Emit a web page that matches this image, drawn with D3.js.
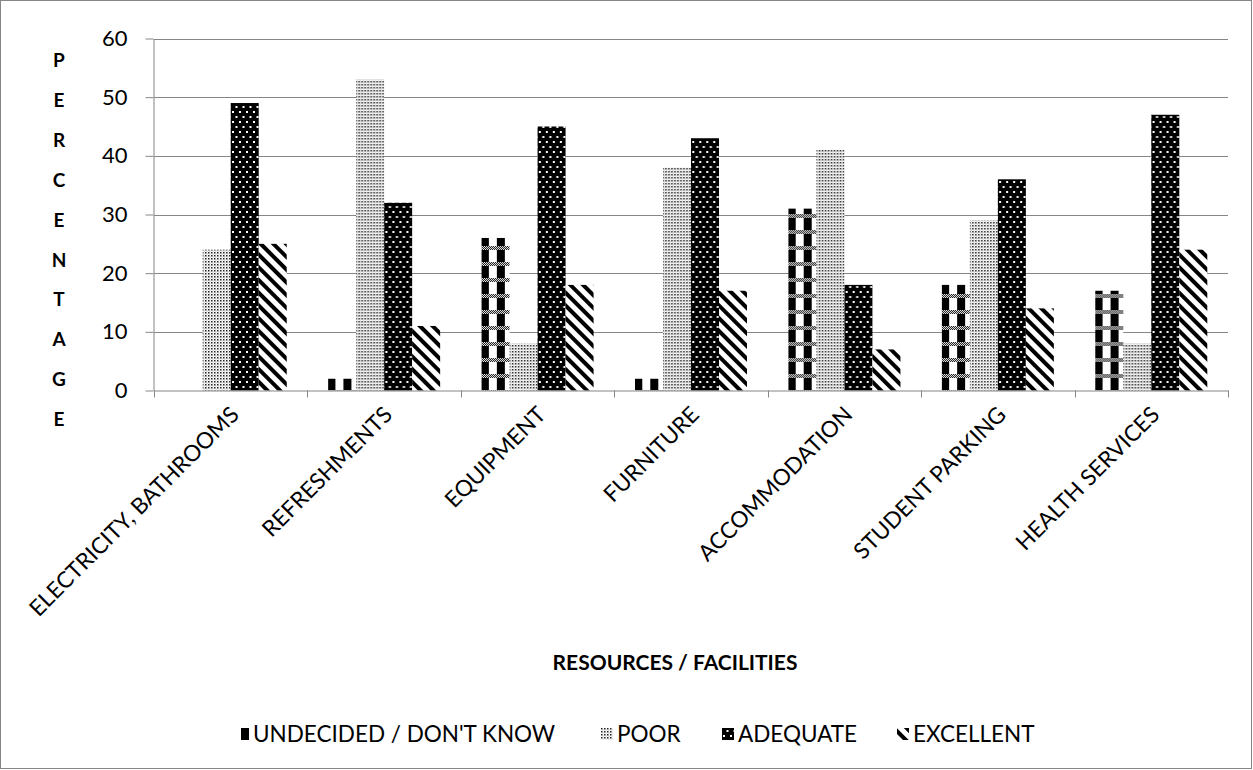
<!DOCTYPE html>
<html>
<head>
<meta charset="utf-8">
<script src="https://cdn.jsdelivr.net/npm/d3@7/dist/d3.min.js"></script>
<style>
  html, body { margin: 0; padding: 0; background: #fff; }
  svg { display: block; font-family: Lato, "Liberation Sans", sans-serif; }
</style>
</head>
<body>
<svg id="chart" width="1253" height="770"></svg>
<script>
// Survey results: rating of campus resources / facilities (percent of respondents)
const categories = ["ELECTRICITY, BATHROOMS", "REFRESHMENTS", "EQUIPMENT", "FURNITURE",
                    "ACCOMMODATION", "STUDENT PARKING", "HEALTH SERVICES"];
const seriesNames = ["UNDECIDED / DON'T KNOW", "POOR", "ADEQUATE", "EXCELLENT"];
const undecided = [0, 2, 26, 2, 31, 18, 17];
const poor      = [24, 53, 8, 38, 41, 29, 8];
const adequate  = [49, 32, 45, 43, 18, 36, 47];
const excellent = [25, 11, 18, 17, 7, 14, 24];
const yTicks = [0, 10, 20, 30, 40, 50, 60];
const yTitle = "PERCENTAGE";
const xTitle = "RESOURCES / FACILITIES";

const seriesValues = [undecided, poor, adequate, excellent];
const patternIds = ["pat-undecided", "pat-poor", "pat-adequate", "pat-excellent"];

const svg = d3.select("#chart");
const W = 1253, H = 770;
const plot = { left: 154, right: 1228, top: 38.5, bottom: 390.5 };

// ---- fill patterns ----
const defs = svg.append("defs");

// undecided: black vertical bars crossed by checkered bands
const pU = defs.append("pattern").attr("id", patternIds[0])
  .attr("patternUnits", "userSpaceOnUse").attr("width", 16).attr("height", 16);
pU.append("rect").attr("width", 16).attr("height", 16).attr("fill", "#fff");
pU.append("rect").attr("x", 4).attr("width", 8).attr("height", 16).attr("fill", "#000");
for (let i = 0; i < 16; i++) {
  for (let j = 0; j < 4; j++) {
    pU.append("rect").attr("x", i).attr("y", 6 + j).attr("width", 1).attr("height", 1)
      .attr("fill", (i + j) % 2 === 0 ? "#000" : "#fff");
  }
}

// poor: fine dotted texture
const pP = defs.append("pattern").attr("id", patternIds[1])
  .attr("patternUnits", "userSpaceOnUse").attr("width", 3).attr("height", 3);
pP.append("rect").attr("width", 3).attr("height", 3).attr("fill", "#fff");
pP.append("rect").attr("x", 0).attr("y", 0).attr("width", 1.5).attr("height", 1.5).attr("fill", "#222");
pP.append("rect").attr("x", 1.5).attr("y", 1.5).attr("width", 1).attr("height", 1).attr("fill", "#999");

// adequate: black with white dots
const pA = defs.append("pattern").attr("id", patternIds[2])
  .attr("patternUnits", "userSpaceOnUse").attr("width", 7).attr("height", 10);
pA.append("rect").attr("width", 7).attr("height", 10).attr("fill", "#000");
pA.append("rect").attr("x", 1).attr("y", 1).attr("width", 2).attr("height", 2).attr("fill", "#fff");
pA.append("rect").attr("x", 4.5).attr("y", 6).attr("width", 2).attr("height", 2).attr("fill", "#fff");

// excellent: wide downward diagonal stripes
const pE = defs.append("pattern").attr("id", patternIds[3])
  .attr("patternUnits", "userSpaceOnUse").attr("width", 9).attr("height", 9)
  .attr("patternTransform", "rotate(-45)");
pE.append("rect").attr("width", 9).attr("height", 9).attr("fill", "#fff");
pE.append("rect").attr("x", 0).attr("width", 4).attr("height", 9).attr("fill", "#000");

// ---- outer frame ----
svg.append("rect").attr("x", 0.5).attr("y", 0.5).attr("width", W - 2).attr("height", H - 2)
  .attr("fill", "#fff").attr("stroke", "#868686").attr("stroke-width", 1);

// ---- scales ----
const x0 = d3.scaleBand().domain(categories).range([plot.left, plot.right]).paddingInner(0).paddingOuter(0);
const x1 = d3.scaleBand().domain(seriesNames).range([0, x0.bandwidth()]).paddingInner(0).paddingOuter(0.74);
const y = d3.scaleLinear().domain([0, 60]).range([plot.bottom, plot.top]);

// ---- gridlines ----
svg.append("g").selectAll("line").data(yTicks.filter(d => d > 0)).join("line")
  .attr("x1", plot.left).attr("x2", plot.right)
  .attr("y1", d => Math.round(y(d)) + 0.5).attr("y2", d => Math.round(y(d)) + 0.5)
  .attr("stroke", "#868686").attr("stroke-width", 1);

// ---- bars ----
const groups = svg.append("g").selectAll("g").data(categories).join("g")
  .attr("transform", d => `translate(${x0(d)},0)`);
groups.selectAll("rect")
  .data((c, ci) => seriesNames.map((s, si) => ({ s, si, v: seriesValues[si][ci] })))
  .join("rect")
  .attr("x", d => x1(d.s))
  .attr("y", d => y(d.v))
  .attr("width", x1.bandwidth())
  .attr("height", d => y(0) - y(d.v))
  .attr("fill", d => `url(#${patternIds[d.si]})`);

// ---- y axis ----
const yAxis = svg.append("g").attr("transform", `translate(${plot.left - 0.5},0)`)
  .call(d3.axisLeft(y).tickValues(yTicks).tickSize(8).tickPadding(18).tickSizeOuter(0));
yAxis.select(".domain").attr("stroke", "#868686");
yAxis.selectAll(".tick line").attr("stroke", "#868686");
yAxis.selectAll(".tick text").attr("font-size", 22).attr("fill", "#000")
  .attr("font-family", "Lato, sans-serif");

// ---- x axis ----
const xAxis = svg.append("g").attr("transform", `translate(0,${plot.bottom})`)
  .call(d3.axisBottom(x0).tickSize(0).tickSizeOuter(0).tickPadding(0));
xAxis.select(".domain").attr("stroke", "#868686");
xAxis.selectAll(".tick text")
  .attr("font-size", 22.5).attr("fill", "#000")
  .attr("font-family", "Lato, sans-serif")
  .attr("text-anchor", "end")
  .attr("dy", "0.35em")
  .attr("transform", "translate(4,20) rotate(-45)");
// boundary tick marks between categories
const bounds = categories.map(c => x0(c)).concat([plot.right]);
svg.append("g").selectAll("line").data(bounds).join("line")
  .attr("x1", d => Math.round(d) + 0.5).attr("x2", d => Math.round(d) + 0.5)
  .attr("y1", plot.bottom).attr("y2", plot.bottom + 7)
  .attr("stroke", "#868686");

// ---- axis titles ----
const yt = svg.append("text").attr("font-weight", "bold").attr("font-size", 19)
  .attr("text-anchor", "middle").attr("fill", "#000");
yt.selectAll("tspan").data(yTitle.split("")).join("tspan")
  .attr("x", 59).attr("y", (d, i) => 67 + i * 39.9)
  .text(d => d);

svg.append("text").attr("x", (plot.left + plot.right) / 2 - 16).attr("y", 670)
  .attr("text-anchor", "middle").attr("font-weight", "bold").attr("font-size", 21)
  .attr("fill", "#000").text(xTitle);

// ---- legend ----
const legendX = [237, 601, 722, 897];
const legend = svg.append("g").selectAll("g").data(seriesNames).join("g")
  .attr("transform", (d, i) => `translate(${legendX[i]},734)`);
legend.append("rect").attr("x", 0).attr("y", -6).attr("width", 12).attr("height", 12)
  .attr("fill", (d, i) => `url(#${patternIds[i]})`);
legend.append("text").attr("x", 16).attr("y", 0).attr("dy", "0.35em")
  .attr("font-size", 22.5).attr("fill", "#000").text(d => d);
</script>
</body>
</html>
